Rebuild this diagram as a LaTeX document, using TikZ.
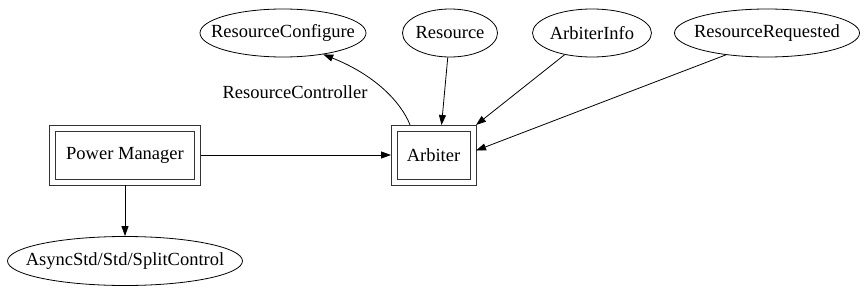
\documentclass[tikz,border=0pt]{standalone}
\usepackage{fontspec}
\setmainfont{Liberation Serif}
\usetikzlibrary{shapes.geometric,arrows.meta}
\begin{document}
\begin{tikzpicture}[x=1pt,y=1pt,
  every node/.style={font=\fontsize{18.5}{22}\selectfont},
  iface/.style={ellipse,draw,line width=0.8pt,inner sep=0pt,minimum height=48pt},
  comp/.style={rectangle,draw=black!80,line width=1pt,
               minimum height=48pt,inner sep=0pt,outer sep=6pt},
  frame/.style={draw=black!80,line width=1pt},
  arr/.style={-{Triangle[length=10pt,width=7pt]},line width=0.8pt}]
\useasboundingbox (0,0) rectangle (864,290);

% interfaces (fixed-size ellipses, names set in the centre)
\node[iface,minimum width=166pt,label=center:ResourceConfigure] (rc)  at (283,257) {};
\node[iface,minimum width=95pt,label=center:Resource]           (res) at (450,257) {};
\node[iface,minimum width=119pt,label=center:ArbiterInfo]       (ai)  at (592,257) {};
\node[iface,minimum width=185pt,label=center:ResourceRequested] (rr)  at (767,257) {};
\node[iface,minimum width=235pt,minimum height=49pt,
      label=center:AsyncStd/Std/SplitControl] (asc) at (125,29) {};

% components, each with an outer frame
\node[comp,minimum width=139pt] (pm)  at (125,135) {Power Manager};
\node[comp,minimum width=73pt]  (arb) at (433.5,135) {Arbiter};
\draw[frame] (pm.north west) rectangle (pm.south east);
\draw[frame] (arb.north west) rectangle (arb.south east);

% wiring
\draw[arr] (arb.128) .. controls (401,188) and (375,215) .. (rc.-28);
\node (lbl) at (295,198) {ResourceController};
\draw[arr] (res) -- (arb.75);
\draw[arr] (ai) -- (arb.north east);
\draw[arr] (rr.208) -- (arb.6);
\draw[arr] (pm) -- (arb);
\draw[arr] (pm) -- (asc);
\end{tikzpicture}
\end{document}
